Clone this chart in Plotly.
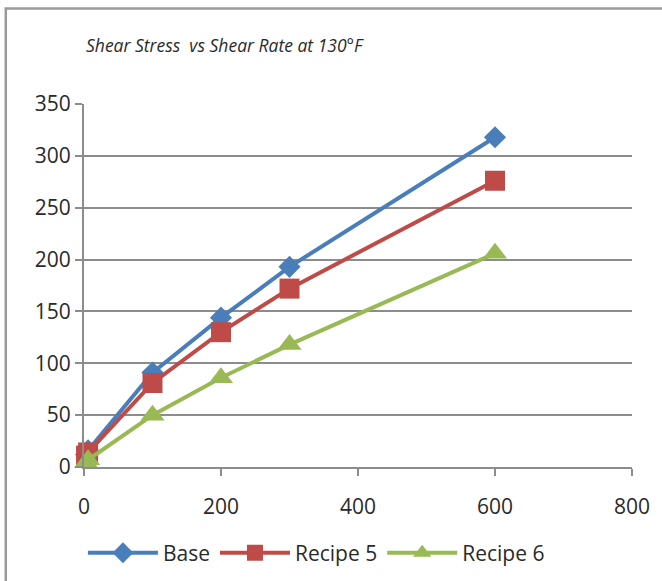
import plotly.graph_objects as go

shear_rate = [3, 6, 100, 200, 300, 600]
base = [12, 16, 91, 144, 193, 318]
recipe5 = [11, 14, 81, 130, 172, 276]
recipe6 = [4, 7, 50, 86, 118, 206]
series_names = ["Base", "Recipe 5", "Recipe 6"]
title_text = "Shear Stress  vs Shear Rate at 130°F"

W, H = 662, 581
L, R, T, B = 84, 28, 104, 114
pw, ph = W - L - R, H - T - B

fig = go.Figure()
styles = [
    ("#4A7EBB", "diamond", 17),
    ("#BE4B48", "square", 20),
    ("#98B954", "triangle-up", 21),
]
for name, ys, (col, sym, ms) in zip(series_names, [base, recipe5, recipe6], styles):
    fig.add_trace(go.Scatter(
        x=shear_rate, y=ys, name=name, mode="lines+markers",
        line=dict(color=col, width=4),
        marker=dict(color=col, symbol=sym, size=ms, line=dict(width=0)),
        cliponaxis=False,
    ))

font = "Open Sans, Liberation Sans, sans-serif"
fig.update_layout(
    width=W, height=H,
    margin=dict(l=L, r=R, t=T, b=B),
    paper_bgcolor="white", plot_bgcolor="white",
    font=dict(family=font, size=20, color="#2A2A2A"),
    showlegend=True,
    legend=dict(orientation="h", xref="container", x=0.478, xanchor="center",
                yref="container", y=0.048, yanchor="middle",
                font=dict(size=21, color="#2A2A2A"), itemwidth=70,
                traceorder="normal"),
    xaxis=dict(range=[0, 800], tickvals=[0, 200, 400, 600, 800],
               showgrid=False, zeroline=False, showline=True,
               linecolor="#8C8C8C", linewidth=2,
               ticks="outside", ticklen=7, tickcolor="#8C8C8C", tickwidth=2,
               ticklabelstandoff=13, tickfont=dict(size=21)),
    yaxis=dict(range=[0, 350], tickvals=list(range(0, 351, 50)),
               showgrid=True, gridcolor="#8C8C8C", gridwidth=1.5,
               zeroline=False, showline=True,
               linecolor="#8C8C8C", linewidth=2,
               ticks="outside", ticklen=7, tickcolor="#8C8C8C", tickwidth=1.5,
               tickfont=dict(size=21)),
    annotations=[dict(text="<i>" + title_text + "</i>", xref="paper", yref="paper",
                      x=0, y=(H - B - 45) / ph, xanchor="left", yanchor="middle",
                      showarrow=False,
                      font=dict(family=font, size=17.5, color="#2A2A2A"))],
)

# outer chart frame (left and top edges visible)
x_left = (5.5 - L) / pw
y_top = (H - B - 8.5) / ph
fig.add_shape(type="path", xref="paper", yref="paper",
              path=f"M {x_left},-1 L {x_left},{y_top} L 2,{y_top}",
              line=dict(color="#9A9A9A", width=2.5), layer="above")

fig.write_html("out.html")
